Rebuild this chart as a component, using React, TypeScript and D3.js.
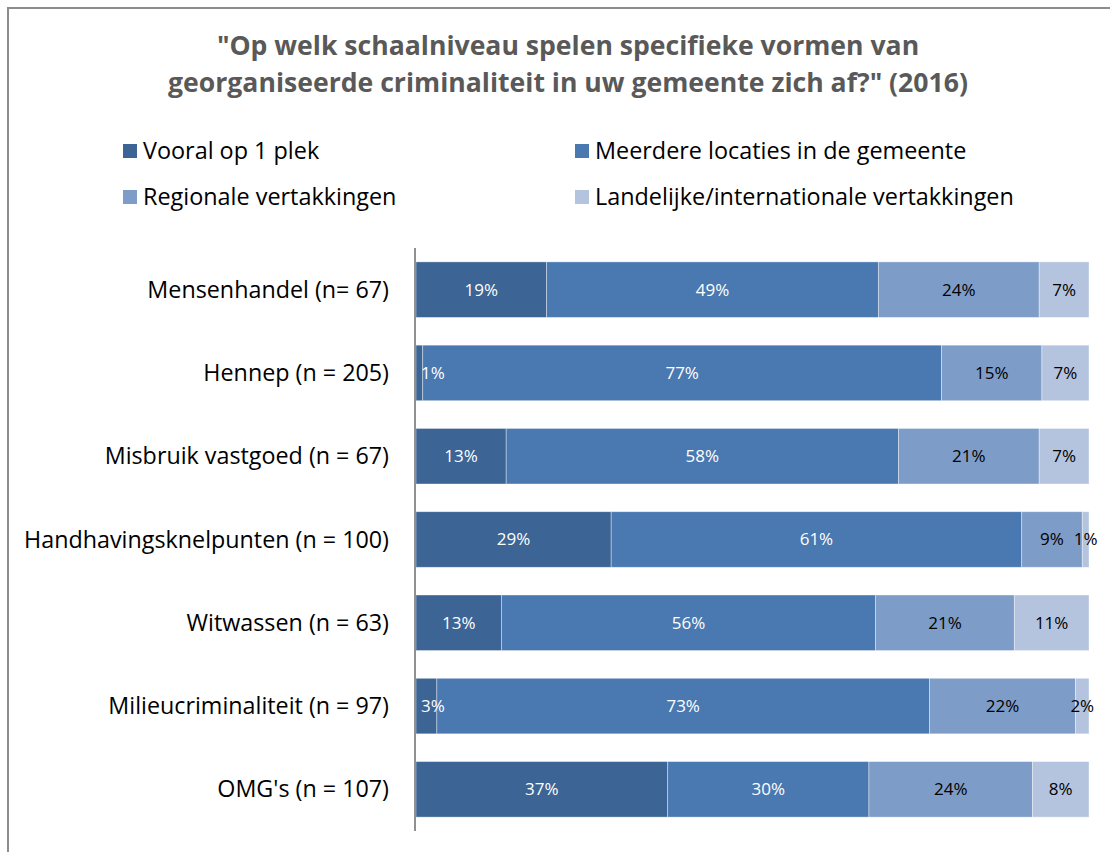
import React from "react";
import * as d3 from "d3";

const categories = [
  "Mensenhandel (n= 67)",
  "Hennep (n = 205)",
  "Misbruik vastgoed (n = 67)",
  "Handhavingsknelpunten (n = 100)",
  "Witwassen (n = 63)",
  "Milieucriminaliteit (n = 97)",
  "OMG's (n = 107)",
];
const seriesNames = [
  "Vooral op 1 plek",
  "Meerdere locaties in de gemeente",
  "Regionale vertakkingen",
  "Landelijke/internationale vertakkingen",
];
const vooralOp1Plek = [19.4, 1.0, 13.4, 29.0, 12.7, 3.1, 37.4];
const meerdereLocaties = [49.3, 77.1, 58.3, 61.0, 55.6, 73.2, 29.9];
const regionaleVertakkingen = [23.9, 14.9, 20.9, 9.0, 20.6, 21.7, 24.3];
const landelijkeVertakkingen = [7.4, 7.0, 7.4, 1.0, 11.1, 2.0, 8.4];
const titleLines = [
  '"Op welk schaalniveau spelen specifieke vormen van',
  'georganiseerde criminaliteit in uw gemeente zich af?" (2016)',
];

const colors = ["#3C6494", "#4A78B0", "#7E9CC8", "#B4C3DE"];
const labelColors = ["#FFFFFF", "#FFFFFF", "#000000", "#000000"];
const FONT = "'Open Sans', 'Noto Sans', sans-serif";

export default function App() {
  const W = 1110;
  const H = 852;
  const keys = ["s0", "s1", "s2", "s3"];
  const seriesData = [vooralOp1Plek, meerdereLocaties, regionaleVertakkingen, landelijkeVertakkingen];
  const table = categories.map((c, i) => {
    const row: any = { cat: c };
    keys.forEach((k, j) => (row[k] = seriesData[j][i]));
    return row;
  });
  const stack = d3.stack<any>().keys(keys).offset(d3.stackOffsetExpand);
  const stacked = stack(table);

  const x = d3.scaleLinear().domain([0, 1]).range([416, 1089]);
  const y = d3
    .scaleBand<string>()
    .domain(categories)
    .range([248, 831])
    .paddingInner(0.333)
    .paddingOuter(0.1667);

  const fmt = (v: number) => `${Math.round(v)}%`;

  const legendPos = [
    { x: 123, y: 151 },
    { x: 575, y: 151 },
    { x: 123, y: 197 },
    { x: 575, y: 197 },
  ];

  return (
    <svg
      width={W}
      height={H}
      style={{ position: "absolute", left: 0, top: 0, background: "#fff" }}
      fontFamily={FONT}
    >
      <rect x={0} y={0} width={W} height={H} fill="#fff" />
      <rect x={8} y={8} width={W + 20} height={H + 20} fill="none" stroke="#8C8C8C" strokeWidth={2} />
      <g>
        {titleLines.map((t, i) => (
          <text
            key={i}
            x={568}
            y={55 + i * 37}
            textAnchor="middle"
            fontSize={26.6}
            fontWeight="bold"
            fill="#595959"
          >
            {t}
          </text>
        ))}
      </g>
      <g>
        {seriesNames.map((s, i) => (
          <g key={s} transform={`translate(${legendPos[i].x},${legendPos[i].y})`}>
            <rect x={0} y={-7} width={14} height={14} fill={colors[i]} />
            <text x={20} y={0} dy="0.35em" fontSize={23.4} fill="#000">
              {s}
            </text>
          </g>
        ))}
      </g>
      <g>
        {stacked.map((layer, li) => (
          <g key={li}>
            {layer.map((d, ci) => {
              const x0 = x(d[0]);
              const x1 = x(d[1]);
              const yy = y(categories[ci])!;
              return (
                <rect
                  key={ci}
                  x={x0}
                  y={yy}
                  width={Math.max(0, x1 - x0)}
                  height={y.bandwidth()}
                  fill={colors[li]}
                  stroke="#ffffff"
                  strokeOpacity={0.5}
                  strokeWidth={0.75}
                />
              );
            })}
          </g>
        ))}
      </g>
      <g>
        {stacked.map((layer, li) => (
          <g key={li}>
            {layer.map((d, ci) => {
              const v = seriesData[li][ci];
              const cx = Math.max((x(d[0]) + x(d[1])) / 2, 433);
              const cy = y(categories[ci])! + y.bandwidth() / 2;
              return (
                <text
                  key={ci}
                  x={cx}
                  y={cy}
                  dy="0.35em"
                  textAnchor="middle"
                  fontSize={17}
                  fill={labelColors[li]}
                >
                  {fmt(v)}
                </text>
              );
            })}
          </g>
        ))}
      </g>
      <line x1={415} x2={415} y1={248} y2={831} stroke="#909090" strokeWidth={2} />
      <g>
        {categories.map((c) => (
          <text
            key={c}
            x={389}
            y={y(c)! + y.bandwidth() / 2}
            dy="0.35em"
            textAnchor="end"
            fontSize={23.3}
            fill="#000"
          >
            {c}
          </text>
        ))}
      </g>
    </svg>
  );
}
